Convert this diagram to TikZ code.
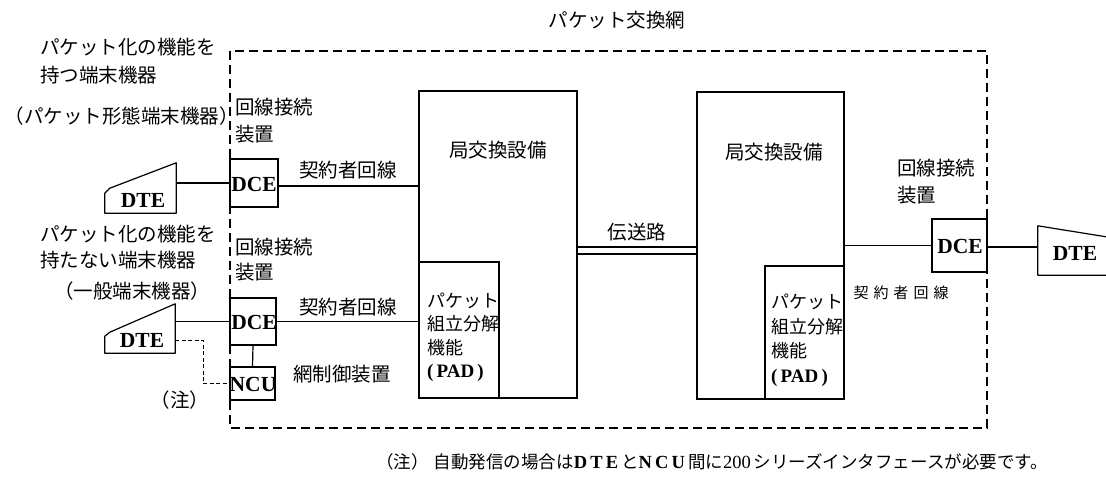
\documentclass[tikz,border=0pt]{standalone}
\usepackage{fontspec}
\setmainfont{Liberation Serif}
\newfontfamily\jp{Noto Sans CJK JP}
\usetikzlibrary{calc}
\tikzset{
  jpt/.style={font=\jp\fontsize{19.5}{27}\selectfont, inner sep=0pt, align=left},
  lat/.style={font=\rmfamily\bfseries\fontsize{21.5}{24}\selectfont, inner sep=0pt},
  box/.style={draw, line width=1.2pt, inner sep=0pt},
  dtebox/.style={inner sep=0pt, draw=none},
  ln/.style={line width=1.2pt},
  netline/.style={line width=1.2pt, dash pattern=on 9pt off 5pt},
  dotln/.style={line width=1pt, dash pattern=on 4pt off 2.5pt},
}
\newcommand{\latin}[1]{{\rmfamily\bfseries\fontsize{19}{23}\selectfont #1}}
\begin{document}
\begin{tikzpicture}[x=1pt,y=-1pt]
\useasboundingbox (0,0) rectangle (1106,482);
\fill[white] (0,0) rectangle (1106,482);

% packet network boundary
\coordinate (nw) at (230,51);
\coordinate (se) at (987,428);
\draw[netline] (nw) rectangle (se);
\node[jpt] (title) at (617,20) {パケット交換網};

% exchange equipment
\node[box, minimum width=158, minimum height=307] (ex1) at (498,244.5) {};
\node[box, minimum width=80, minimum height=136] (pad1) at (459,330) {};
\node[box, minimum width=147, minimum height=307] (ex2) at (770.5,245.5) {};
\node[box, minimum width=79, minimum height=133] (pad2) at (804.5,332.5) {};
\node[jpt] (ex1t) at (498,150) {局交換設備};
\node[jpt] (ex2t) at (774,152) {局交換設備};
\node[jpt, font=\jp\fontsize{18}{23.5}\selectfont, anchor=west] (pad1t) at (427,337) {パケット\\組立分解\\機能\\\latin{(\,PAD\,)}};
\node[jpt, font=\jp\fontsize{18}{24.5}\selectfont, anchor=west] (pad2t) at (771,340) {パケット\\組立分解\\機能\\\latin{(\,PAD\,)}};

% transmission line
\draw[ln] ($(ex1.east)+(0,2.5)$) -- ($(ex2.west)+(0,1.5)$);
\draw[ln] ($(ex1.east)+(0,9.5)$) -- ($(ex2.west)+(0,8.5)$);
\node[jpt] (tx) at (637,232) {伝送路};

% upper left terminal
\node[box, minimum width=48, minimum height=48] (dce1) at (254,183) {};
\node[lat] (dce1t) at (254,184) {DCE};
\node[dtebox, minimum width=71, minimum height=50] (dte1) at (140.5,188) {};
\draw[ln, line join=round] (dte1.south west) -- ([yshift=20pt]dte1.south west) -- ([xshift=5pt,yshift=25pt]dte1.south west) -- (dte1.north east) -- (dte1.south east) -- cycle;
\node[lat] (dte1t) at (143,200) {DTE};
\draw[ln] (dce1.west) -- (dce1.west -| dte1.east);
\draw[ln] ($(dce1.east)+(0,3)$) -- ($(dce1.east -| ex1.west)+(0,3)$);
\node[jpt] (sub1) at (348,170) {契約者回線};
\node[jpt, anchor=west] (lab1) at (40,61) {パケット化の機能を\\[1pt]持つ端末機器};
\node[jpt] (lab1b) at (122,116) {（パケット形態端末機器）};
\node[jpt, anchor=west] (cc1) at (235,120.5) {回線接続\\装置};

% lower left terminal
\node[box, minimum width=46, minimum height=47] (dce2) at (253,321.5) {};
\node[lat] (dce2t) at (254,322.5) {DCE};
\node[box, minimum width=45, minimum height=33] (ncu) at (252.5,383.5) {};
\node[lat] (ncut) at (253,384.5) {NCU};
\draw[ln] (dce2.south) -- (ncu.north);
\node[dtebox, minimum width=70, minimum height=49] (dte2) at (140,328.5) {};
\draw[ln, line join=round] (dte2.south west) -- ([yshift=17pt]dte2.south west) -- ([xshift=5pt,yshift=21pt]dte2.south west) -- (dte2.north east) -- (dte2.south east) -- cycle;
\node[lat] (dte2t) at (142,340) {DTE};
\draw[ln] (dce2.west) -- (dce2.west -| dte2.east);
\draw[ln] (dce2.east) -- (dce2.east -| ex1.west);
\coordinate (dbend) at (203,340);
\draw[dotln] (dbend -| dte2.east) -- (dbend) -- (dbend |- ncu.west) -- (ncu.west);
\node[jpt] (sub2) at (348,307) {契約者回線};
\node[jpt] (ncul) at (342,374) {網制御装置};
\node[jpt] (note1) at (180,400) {（注）};
\node[jpt, anchor=west] (lab2) at (40,247) {パケット化の機能を\\[-1pt]持たない端末機器};
\node[jpt] (lab2b) at (132,291) {（一般端末機器）};
\node[jpt, font=\jp\fontsize{19.5}{25}\selectfont, anchor=west] (cc2) at (235,260) {回線接続\\装置};

% right terminal
\node[box, minimum width=55, minimum height=53] (dce3) at (959.5,245.5) {};
\node[lat] (dce3t) at (960,246) {DCE};
\node[dtebox, minimum width=68, minimum height=49] (dte3) at (1072,250.5) {};
\draw[ln, line join=round] ([yshift=-11pt]dte3.north east) -- (dte3.north west) -- (dte3.south west) -- (dte3.south east);
\node[lat] (dte3t) at (1075,253) {DTE};
\draw[ln] (ex2.east) -- (dce3.west);
\draw[ln] ($(dce3.east)+(0,1.5)$) -- ($(dce3.east -| dte3.west)+(0,1.5)$);
\node[jpt, anchor=west] (cc3) at (897,181.5) {回線接続\\装置};
\node[jpt, font=\jp\fontsize{15}{18}\selectfont] (sub3) at (901,293) {契\hspace{5pt}約\hspace{5pt}者\hspace{5pt}回\hspace{5pt}線};

% footnote
\node[jpt, font=\jp\fontsize{17.5}{20}\selectfont] (fn) at (712,462) {（注）\hspace{0.3em}自動発信の場合は{\rmfamily\bfseries\fontsize{18.5}{20}\selectfont D\,T\,E\,}と{\rmfamily\bfseries\fontsize{18.5}{20}\selectfont N\,C\,U\,}間に{\rmfamily\fontsize{18.5}{20}\selectfont 200\,}シリーズインタフェースが必要です。};
\end{tikzpicture}
\end{document}
